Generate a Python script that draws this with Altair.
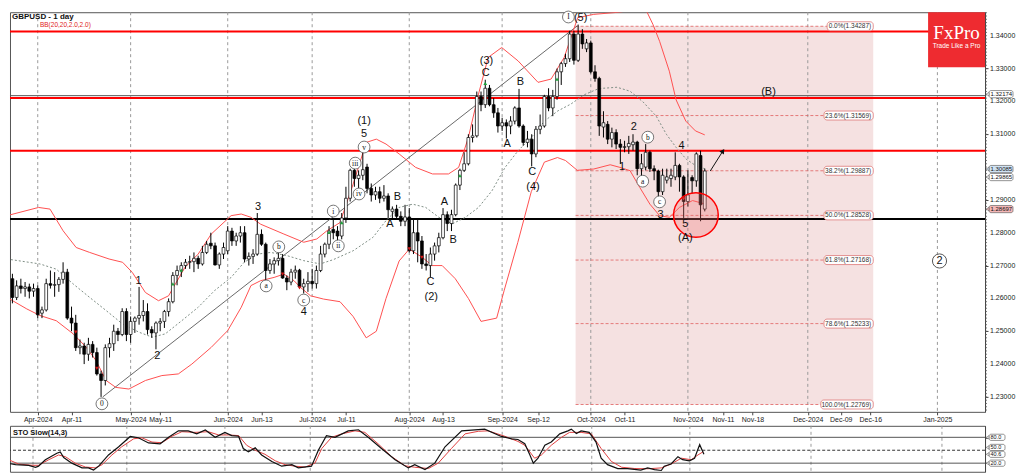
import altair as alt
import pandas as pd

FONT = "Liberation Sans"
SERIF = "Liberation Serif"

# ---------------- candles: index 0 = 1 Apr 2024, one step per trading day ----------------
first_bar = -7
opens = [
    1.2790, 1.2660, 1.2603, 1.2638, 1.2630, 1.2635, 1.2622, 1.2630, 1.2555, 1.2565,
    1.2645, 1.2640, 1.2642, 1.2658, 1.2680, 1.2540, 1.2525, 1.2450, 1.2455, 1.2430,
    1.2460, 1.2435, 1.2370, 1.2350, 1.2450, 1.2462, 1.2500, 1.2490, 1.2560, 1.2490,
    1.2530, 1.2540, 1.2548, 1.2560, 1.2505, 1.2495, 1.2525, 1.2530, 1.2560, 1.2590,
    1.2670, 1.2685, 1.2700, 1.2710, 1.2712, 1.2722, 1.2705, 1.2740, 1.2768, 1.2760,
    1.2702, 1.2735, 1.2745, 1.2805, 1.2775, 1.2790, 1.2800, 1.2720, 1.2728, 1.2735,
    1.2795, 1.2765, 1.2685, 1.2705, 1.2715, 1.2722, 1.2662, 1.2650, 1.2680, 1.2686,
    1.2635, 1.2645, 1.2652, 1.2645, 1.2685, 1.2735, 1.2765, 1.2810, 1.2805, 1.2790,
    1.2845, 1.2905, 1.2990, 1.2965, 1.2975, 1.3000, 1.2935, 1.2915, 1.2925, 1.2905,
    1.2912, 1.2865, 1.2872, 1.2850, 1.2835, 1.2848, 1.2745, 1.2800, 1.2775, 1.2705,
    1.2700, 1.2735, 1.2760, 1.2785, 1.2855, 1.2828, 1.2855, 1.2945, 1.2990, 1.3010,
    1.3090, 1.3095, 1.3215, 1.3190, 1.3240, 1.3190, 1.3165, 1.3125, 1.3135, 1.3125,
    1.3140, 1.3180, 1.3125, 1.3075, 1.3085, 1.3040, 1.3115, 1.3125, 1.3215, 1.3180,
    1.3215, 1.3290, 1.3315, 1.3330, 1.3405, 1.3325, 1.3405, 1.3360, 1.3378, 1.3290,
    1.3270, 1.3122, 1.3130, 1.3085, 1.3105, 1.3070, 1.3060, 1.3062, 1.3068, 1.3076,
    1.2995, 1.3000, 1.3045, 1.2995, 1.2988, 1.2925, 1.2960, 1.2965, 1.2970, 1.3005,
    1.2970, 1.2895, 1.2968, 1.2958, 1.3035, 1.2872,
]
highs = [
    1.2804, 1.2675, 1.2655, 1.2660, 1.2650, 1.2645, 1.2645, 1.2640, 1.2575, 1.2660,
    1.2685, 1.2680, 1.2665, 1.2710, 1.2690, 1.2575, 1.2550, 1.2475, 1.2465, 1.2480,
    1.2470, 1.2450, 1.2380, 1.2460, 1.2480, 1.2520, 1.2510, 1.2570, 1.2570, 1.2545,
    1.2545, 1.2635, 1.2595, 1.2585, 1.2515, 1.2530, 1.2540, 1.2565, 1.2600, 1.2680,
    1.2700, 1.2710, 1.2720, 1.2730, 1.2740, 1.2730, 1.2760, 1.2775, 1.2800, 1.2770,
    1.2740, 1.2770, 1.2820, 1.2815, 1.2800, 1.2820, 1.2820, 1.2740, 1.2750, 1.2860,
    1.2810, 1.2770, 1.2720, 1.2725, 1.2745, 1.2735, 1.2670, 1.2690, 1.2700, 1.2690,
    1.2660, 1.2680, 1.2690, 1.2700, 1.2760, 1.2770, 1.2820, 1.2845, 1.2820, 1.2860,
    1.2940, 1.2995, 1.2995, 1.2990, 1.3045, 1.3010, 1.2950, 1.2940, 1.2940, 1.2945,
    1.2920, 1.2880, 1.2885, 1.2865, 1.2885, 1.2875, 1.2840, 1.2840, 1.2790, 1.2735,
    1.2755, 1.2770, 1.2800, 1.2875, 1.2865, 1.2870, 1.2950, 1.2995, 1.3045, 1.3100,
    1.3130, 1.3230, 1.3230, 1.3266, 1.3250, 1.3210, 1.3180, 1.3150, 1.3145, 1.3155,
    1.3185, 1.3238, 1.3130, 1.3110, 1.3100, 1.3125, 1.3160, 1.3220, 1.3240, 1.3235,
    1.3300, 1.3320, 1.3345, 1.3415, 1.3415, 1.3434, 1.3420, 1.3390, 1.3385, 1.3310,
    1.3275, 1.3170, 1.3140, 1.3120, 1.3115, 1.3085, 1.3080, 1.3095, 1.3100, 1.3080,
    1.3040, 1.3070, 1.3050, 1.3005, 1.2992, 1.2995, 1.2995, 1.2995, 1.3045, 1.3010,
    1.2975, 1.2990, 1.2975, 1.3045, 1.3050, 1.2995,
]
lows = [
    1.2655, 1.2585, 1.2595, 1.2615, 1.2605, 1.2600, 1.2605, 1.2540, 1.2540, 1.2560,
    1.2630, 1.2605, 1.2620, 1.2645, 1.2535, 1.2500, 1.2440, 1.2430, 1.2400, 1.2410,
    1.2420, 1.2365, 1.2300, 1.2335, 1.2420, 1.2440, 1.2470, 1.2485, 1.2470, 1.2465,
    1.2495, 1.2520, 1.2530, 1.2490, 1.2480, 1.2445, 1.2500, 1.2510, 1.2545, 1.2585,
    1.2640, 1.2665, 1.2690, 1.2690, 1.2680, 1.2690, 1.2700, 1.2735, 1.2750, 1.2700,
    1.2690, 1.2720, 1.2735, 1.2760, 1.2760, 1.2770, 1.2710, 1.2700, 1.2705, 1.2730,
    1.2760, 1.2655, 1.2675, 1.2675, 1.2700, 1.2660, 1.2625, 1.2640, 1.2660, 1.2630,
    1.2615, 1.2620, 1.2630, 1.2630, 1.2680, 1.2725, 1.2750, 1.2780, 1.2770, 1.2780,
    1.2830, 1.2895, 1.2940, 1.2935, 1.2960, 1.2920, 1.2895, 1.2900, 1.2890, 1.2895,
    1.2845, 1.2845, 1.2840, 1.2820, 1.2820, 1.2740, 1.2735, 1.2710, 1.2690, 1.2685,
    1.2665, 1.2715, 1.2740, 1.2780, 1.2805, 1.2805, 1.2850, 1.2930, 1.2985, 1.3005,
    1.3075, 1.3090, 1.3170, 1.3180, 1.3185, 1.3150, 1.3105, 1.3110, 1.3087, 1.3100,
    1.3130, 1.3120, 1.3065, 1.3060, 1.3002, 1.3030, 1.3100, 1.3120, 1.3170, 1.3155,
    1.3205, 1.3250, 1.3305, 1.3320, 1.3312, 1.3320, 1.3360, 1.3350, 1.3285, 1.3260,
    1.3095, 1.3090, 1.3070, 1.3060, 1.3055, 1.3010, 1.3045, 1.3040, 1.3050, 1.2975,
    1.2970, 1.2990, 1.2985, 1.2960, 1.2910, 1.2915, 1.2950, 1.2940, 1.2960, 1.2925,
    1.2845, 1.2880, 1.2920, 1.2940, 1.2835, 1.2865,
]
closes = [
    1.2660, 1.2603, 1.2638, 1.2630, 1.2635, 1.2622, 1.2630, 1.2550, 1.2565, 1.2645,
    1.2640, 1.2642, 1.2658, 1.2680, 1.2540, 1.2525, 1.2450, 1.2455, 1.2430, 1.2460,
    1.2435, 1.2370, 1.2350, 1.2450, 1.2462, 1.2500, 1.2490, 1.2560, 1.2490, 1.2530,
    1.2540, 1.2548, 1.2560, 1.2505, 1.2495, 1.2525, 1.2530, 1.2560, 1.2590, 1.2670,
    1.2685, 1.2700, 1.2710, 1.2712, 1.2722, 1.2705, 1.2740, 1.2765, 1.2760, 1.2702,
    1.2735, 1.2755, 1.2805, 1.2775, 1.2790, 1.2800, 1.2720, 1.2728, 1.2735, 1.2795,
    1.2765, 1.2685, 1.2705, 1.2715, 1.2722, 1.2662, 1.2650, 1.2680, 1.2686, 1.2635,
    1.2645, 1.2652, 1.2645, 1.2685, 1.2735, 1.2765, 1.2805, 1.2800, 1.2790, 1.2845,
    1.2905, 1.2990, 1.2965, 1.2975, 1.2992, 1.2935, 1.2915, 1.2925, 1.2905, 1.2912,
    1.2870, 1.2872, 1.2850, 1.2835, 1.2848, 1.2745, 1.2800, 1.2775, 1.2705, 1.2700,
    1.2735, 1.2760, 1.2785, 1.2855, 1.2828, 1.2855, 1.2945, 1.2990, 1.3010, 1.3090,
    1.3095, 1.3215, 1.3190, 1.3240, 1.3190, 1.3165, 1.3125, 1.3135, 1.3125, 1.3140,
    1.3180, 1.3125, 1.3075, 1.3085, 1.3040, 1.3115, 1.3125, 1.3215, 1.3180, 1.3215,
    1.3290, 1.3315, 1.3330, 1.3405, 1.3325, 1.3405, 1.3375, 1.3378, 1.3290, 1.3270,
    1.3125, 1.3135, 1.3085, 1.3105, 1.3070, 1.3060, 1.3062, 1.3072, 1.3076, 1.2995,
    1.3010, 1.3045, 1.2995, 1.2988, 1.2925, 1.2975, 1.2970, 1.2975, 1.3005, 1.2970,
    1.2895, 1.2915, 1.2958, 1.3040, 1.2885, 1.2988,
]

# ---------------- Bollinger Bands (20, 2) ----------------
bb_upper_x = [-7.3, 0.2, 2.9, 6.0, 9.1, 12.3, 16.9, 20.1, 22.4, 25.5, 28.6, 31.0, 32.6, 34.9, 38.0,
              41.1, 45.8, 48.2, 50.5, 52.8, 58.3, 63.0, 66.1, 68.5, 71.6, 74.7, 77.8, 80.2, 82.5, 85.6,
              89.5, 93.5, 97.3, 99.7, 102.0, 104.4, 106.7, 109.9, 113.8, 118.5, 121.6, 124.7, 127.9,
              131.7, 137.2, 139.5, 142.6, 144.2, 145.7, 147.3, 149.6, 151.2, 153.5, 155.8, 158.0]
bb_upper_y = [1.2852, 1.2877, 1.2872, 1.2806, 1.2755, 1.2740, 1.2720, 1.2710, 1.2679, 1.2618, 1.2593,
              1.2608, 1.2644, 1.2695, 1.2735, 1.2796, 1.2852, 1.2857, 1.2847, 1.2826, 1.2796, 1.2771,
              1.2781, 1.2806, 1.2831, 1.2948, 1.3075, 1.3085, 1.3070, 1.3040, 1.2999, 1.2979, 1.2979,
              1.2999, 1.3090, 1.3222, 1.3334, 1.3364, 1.3323, 1.3258, 1.3268, 1.3334, 1.3455, 1.3465,
              1.3471, 1.3475, 1.3487, 1.3475, 1.3435, 1.3383, 1.3292, 1.3205, 1.3140, 1.3110, 1.3098]
bb_lower_x = [-7.3, -2.6, 0.5, 4.4, 8.4, 11.5, 13.8, 16.2, 18.5, 21.6, 25.5, 29.4, 33.3, 36.5, 41.1,
              45.0, 48.2, 50.5, 52.8, 56.0, 58.3, 60.7, 62.2, 64.6, 67.7, 71.6, 74.7, 77.8, 80.2, 82.5,
              85.6, 88.0, 91.1, 93.4, 95.8, 98.9, 102.0, 105.0, 108.7, 110.5, 113.7, 116.9, 120.0,
              123.1, 125.0, 127.8, 131.7, 135.6, 137.9, 140.3, 142.6, 145.0, 147.3, 149.6, 152.0,
              155.1, 158.2]
bb_lower_y = [1.2603, 1.2568, 1.2548, 1.2532, 1.2492, 1.2451, 1.2411, 1.2350, 1.2329, 1.2324, 1.2350,
              1.2365, 1.2370, 1.2400, 1.2451, 1.2502, 1.2573, 1.2639, 1.2654, 1.2664, 1.2674, 1.2654,
              1.2634, 1.2608, 1.2598, 1.2590, 1.2545, 1.2480, 1.2500, 1.2600, 1.2714, 1.2750, 1.2725,
              1.2700, 1.2700, 1.2660, 1.2600, 1.2530, 1.2540, 1.2625, 1.2770, 1.2925, 1.3015, 1.3029,
              1.3020, 1.2990, 1.2994, 1.3007, 1.2999, 1.2989, 1.2938, 1.2887, 1.2852, 1.2847, 1.2877,
              1.2898, 1.2887]
bb_mid_x = [-7.3, 0.5, 4.4, 8.4, 12.3, 16.2, 20.1, 24.0, 27.1, 30.2, 34.1, 38.0, 41.9, 45.8, 48.9,
            52.1, 55.2, 59.1, 63.0, 66.9, 70.0, 74.7, 79.4, 82.5, 85.6, 88.8, 91.9, 95.0, 98.2, 101.3,
            104.4, 107.6, 110.7, 113.8, 116.9, 120.1, 123.2, 126.3, 129.4, 132.5, 134.0, 137.2, 140.3,
            143.4, 146.5, 148.9, 151.2, 153.6, 155.9, 158.2]
bb_mid_y = [1.2720, 1.2705, 1.2689, 1.2644, 1.2603, 1.2563, 1.2522, 1.2497, 1.2482, 1.2492, 1.2532,
            1.2573, 1.2624, 1.2664, 1.2710, 1.2735, 1.2740, 1.2730, 1.2715, 1.2705, 1.2718, 1.2745,
            1.2786, 1.2837, 1.2877, 1.2887, 1.2877, 1.2847, 1.2827, 1.2847, 1.2877, 1.2928, 1.2999,
            1.3050, 1.3090, 1.3141, 1.3171, 1.3192, 1.3220, 1.3237, 1.3240, 1.3243, 1.3231, 1.3198,
            1.3155, 1.3100, 1.3060, 1.3024, 1.3004, 1.2994]

# ---------------- Stochastic slow (14,3) ----------------
sto_k_x = [-7.3, -6.1, -4.1, -1.0, 0.6, 1.3, 2.9, 5.6, 6.4, 7.2, 9.1, 11.5, 13.0, 14.2, 15.4, 17.7,
           20.1, 22.8, 24.7, 27.1, 29.8, 31.8, 34.1, 36.4, 38.4, 40.4, 42.7, 45.0, 46.6, 48.2, 49.3,
           50.5, 52.1, 53.6, 56.0, 58.3, 60.7, 62.2, 65.3, 66.9, 68.8, 70.8, 73.9, 76.3, 78.6, 81.7,
           84.9, 88.0, 89.5, 91.9, 94.2, 96.6, 100.5, 103.6, 105.9, 109.8, 112.2, 113.7, 115.3,
           116.5, 117.3, 118.4, 120.0, 121.5, 123.5, 125.4, 126.2, 127.4, 128.5, 130.4, 132.0, 133.2,
           134.7, 137.1, 139.4, 142.5, 144.1, 145.7, 147.3, 148.0, 149.6, 151.2, 152.3, 153.9, 155.1,
           156.3, 157.3]
sto_k_y = [39, 20, 16.5, 15, 10.5, 13, 28, 43, 46, 33, 20, 9, 9, 4, 13, 39, 58, 82, 79, 67, 65, 80,
           95, 95, 88, 97, 80, 91.5, 84, 82.5, 54, 46.5, 55.5, 39, 24, 13, 16.5, 9, 13, 50, 84, 80,
           95, 97.5, 80, 54, 28, 9, 16.5, 5, 20, 58, 95, 97.5, 99, 82, 76.5, 75, 65, 39, 20, 31.5,
           61.5, 69, 88, 95, 99, 89, 95, 91.5, 69, 31.5, 16.5, 7.5, 7.5, 4, 9, 5, 3, 13, 18, 35, 28,
           25.5, 31.5, 63, 40.5]
sto_d_x = [-7.3, -5.7, -3.4, -0.2, 1.3, 3.7, 6.0, 7.6, 9.9, 12.3, 14.6, 16.2, 18.5, 20.8, 23.6, 25.5,
           27.9, 30.2, 32.6, 34.9, 38.0, 41.1, 43.5, 45.8, 48.2, 50.1, 52.1, 54.4, 56.8, 59.1, 61.4,
           63.8, 66.1, 67.7, 70.0, 72.4, 75.5, 77.8, 80.9, 84.1, 87.2, 89.5, 92.7, 95.0, 98.1, 101.3,
           104.4, 106.7, 110.6, 113.7, 115.3, 117.6, 119.2, 121.5, 123.9, 125.8, 128.5, 130.9, 133.2,
           135.6, 138.0, 141.1, 144.2, 147.3, 149.6, 152.0, 154.3, 155.9, 157.1]
sto_d_y = [42, 28, 18, 15, 15, 28, 39, 35, 20, 11, 9, 16.5, 39, 58, 76.5, 79, 69, 67.5, 82.5, 93, 91.5,
           93, 85.5, 85.5, 84, 61.5, 50, 40.5, 25.5, 16.5, 13, 11, 20, 54, 80, 88, 95, 91.5, 65, 35,
           14, 10.5, 7.5, 20, 54, 88, 94, 95, 82.5, 70.5, 61.5, 31.5, 39, 61.5, 80, 91.5, 91.5, 88,
           54, 24, 10.5, 7.5, 7, 9, 18, 31.5, 28, 39, 46.5]
sto_levels = [20, 80]
sto_mid = [50]
sto_ticks = [20, 50, 80]
sto_tag_text = ["80.0", "50.0", "40.6", "20.0"]
sto_tag_pos = [80, 56.5, 40.6, 20]

# ---------------- axes ----------------
tick_idx = [0, 8, 22, 29, 45, 53, 65, 73, 88, 96, 110, 118.5, 131, 139, 154,
            162.3, 169.3, 182.4, 190.2, 197.2, 213.1]
tick_lab = ["Apr-2024", "Apr-11", "May-2024", "May-11", "Jun-2024", "Jun-13", "Jul-2024", "Jul-11",
            "Aug-2024", "Aug-13", "Sep-2024", "Sep-12", "Oct-2024", "Oct-11", "Nov-2024", "Nov-11",
            "Nov-18", "Dec-2024", "Dec-09", "Dec-16", "Jan-2025"]
month_idx = [0, 22, 45, 65, 88, 110, 131, 154, 182.4, 213.1]
price_ticks = [1.23, 1.24, 1.25, 1.26, 1.27, 1.28, 1.29, 1.30, 1.31, 1.32, 1.33, 1.34]
# 1.30000 sits under the price tags in the reference, so it gets no label there
price_labels = [1.23, 1.24, 1.25, 1.26, 1.27, 1.28, 1.29, 1.31, 1.32, 1.33, 1.34]

# ---------------- drawn levels ----------------
red_levels = [1.3413, 1.3210, 1.3050]
black_levels = [1.2842]
grey_levels = [1.32174]
fib_pct = ["0.0", "23.6", "38.2", "50.0", "61.8", "78.6", "100.0"]
fib_price = [1.34287, 1.31569, 1.29887, 1.28528, 1.27168, 1.25233, 1.22769]
fib_span = [127.4, 197.9]
trend_x = [15.4, 127.8]
trend_y = [1.2300, 1.3430]

# ---------------- wave labels ----------------
wave_text = ["1", "2", "3", "4", "5", "(1)", "A", "B", "C", "(2)", "A", "B", "C", "(3)", "A", "B",
             "C", "(4)", "(5)", "1", "2", "3", "4", "5", "(A)", "(B)"]
wave_x = [23.9, 28.3, 52.2, 63.0, 77.3, 77.3, 83.4, 85.2, 93.0, 93.2, 96.3, 98.4, 106.1, 106.3,
          111.2, 114.3, 117.1, 117.3, 128.6, 138.4, 141.2, 147.5, 152.5, 153.4, 153.4, 173.1]
wave_y = [1.2653, 1.2425, 1.2878, 1.2559, 1.3100, 1.3140, 1.2827, 1.2909, 1.2650, 1.2605, 1.2894,
          1.2778, 1.3286, 1.3322, 1.3070, 1.3259, 1.2985, 1.2939, 1.3453, 1.3000, 1.3122, 1.2854,
          1.3064, 1.2827, 1.2784, 1.3228]
circ_text = ["0", "a", "b", "c", "i", "ii", "iii", "iv", "v", "I", "a", "b", "c"]
circ_x = [15.2, 54.1, 57.1, 63.0, 70.0, 71.2, 75.2, 76.1, 77.3, 125.7, 143.3, 144.5, 147.3]
circ_y = [1.2279, 1.2638, 1.2757, 1.2595, 1.2866, 1.2760, 1.3012, 1.2918, 1.3061, 1.3457,
          1.2957, 1.3091, 1.2894]
big_circ_text = ["2"]
big_circ_x = [213.6]
big_circ_y = [1.2714]

up_idx = [32, 34, 69, 72, 100, 106, 123]
up_price = [1.2644, 1.2686, 1.2801, 1.2831, 1.2974, 1.3255, 1.3268]
down_idx = [9, 14, 58, 62, 88, 91, 153]
down_price = [1.2497, 1.2387, 1.2674, 1.2632, 1.2751, 1.2725, 1.2903]

ring_x = [155.9]
ring_y = [1.2854]
arrow_x = [159.3, 162.3]
arrow_y = [1.2988, 1.3049]

right_text = ["1.32174", "1.30085", "1.29865", "1.28697"]
right_pos = [1.3222, 1.2994, 1.29695, 1.2872]
right_fill = ["#ffffff", "#cfe2f3", "#ffffff", "#f4b7b7"]

# ---------------- layout ----------------
W, H, SH = 976, 400, 46
X0, X1 = -5.39, 223.2
Y0, Y1 = 1.22546, 1.34715
S0, S1 = 0.0, 106.7
PXI = W / (X1 - X0)
PYU = H / (Y1 - Y0)
PSU = SH / (S1 - S0)

xs = alt.Scale(domain=[X0, X1], nice=False, zero=False)
ys = alt.Scale(domain=[Y0, Y1], nice=False, zero=False)
ss = alt.Scale(domain=[S0, S1], nice=False, zero=False)


def X(f):
    return alt.X(f, type="quantitative", scale=xs)


def Y(f):
    return alt.Y(f, type="quantitative", scale=ys)


def SX(f):
    return alt.X(f, type="quantitative", scale=xs, axis=None)


def SY(f):
    return alt.Y(f, type="quantitative", scale=ss)


lab_expr = "".join(f"abs(datum.value - {v}) < 0.01 ? '{t}' : " for v, t in zip(tick_idx, tick_lab)) + "''"
xaxis = alt.Axis(values=tick_idx, labelExpr=lab_expr, orient="bottom", grid=False, domain=False,
                 ticks=True, tickSize=3, tickColor="#444", labelFont=FONT, labelFontSize=7,
                 labelColor="#222", labelPadding=1, labelFlush=False, labelOverlap=False, title=None)
yaxis = alt.Axis(values=price_ticks, orient="right", grid=False, domain=True, labels=False,
                 domainColor="#444", ticks=True, tickSize=3, tickColor="#444", title=None)

one = pd.DataFrame({"k": [0]})

bars = pd.DataFrame({"idx": list(range(first_bar, first_bar + len(opens))), "open": opens,
                     "high": highs, "low": lows, "close": closes})

fib = pd.DataFrame({"pct": fib_pct, "price": fib_price})
fib["label"] = fib["pct"] + "%(" + fib["price"].map(lambda v: f"{v:.5f}") + ")"
fib["x0"] = fib_span[0]
fib["x1"] = fib_span[1]
fib["xl"] = fib_span[1] - (fib["label"].str.len() * 3.2 + 5) / PXI
fib["lo"] = fib["price"] - 4.5 / PYU
fib["hi"] = fib["price"] + 4.5 / PYU

fib_box = alt.Chart(pd.DataFrame({"x": [fib_span[0]], "x2": [fib_span[1]], "y": [fib_price[-1]],
                                  "y2": [fib_price[0]]})).mark_rect(color="#f5e1e1").encode(
    x=X("x"), x2="x2", y=Y("y"), y2="y2")

months = alt.Chart(pd.DataFrame({"m": month_idx})).mark_rule(
    color="#9a9a9a", strokeDash=[3, 3], strokeWidth=1).encode(x=X("m"))

fib_lines = alt.Chart(fib).mark_rule(color="#e06060", strokeDash=[3, 2], strokeWidth=0.8).encode(
    x=X("x0"), x2="xl", y=Y("price"))
fib_boxes = alt.Chart(fib).mark_rect(fill="white", stroke="#d77", strokeWidth=0.8, cornerRadius=3).encode(
    x=X("xl"), x2="x1", y=Y("lo"), y2="hi")
fib_text = alt.Chart(fib).mark_text(align="right", baseline="middle", fontSize=6.5, font=FONT,
                                    color="#333", dx=-2).encode(x=X("x1"), y=Y("price"), text="label")

grey_line = alt.Chart(pd.DataFrame({"p": grey_levels})).mark_rule(color="#555", strokeWidth=1).encode(y=Y("p"))
red_lines = alt.Chart(pd.DataFrame({"p": red_levels})).mark_rule(color="#ff0000", strokeWidth=2).encode(y=Y("p"))
black_line = alt.Chart(pd.DataFrame({"p": black_levels})).mark_rule(color="#000", strokeWidth=2).encode(y=Y("p"))

trend = alt.Chart(pd.DataFrame({"x": [trend_x[0]], "x2": [trend_x[1]], "y": [trend_y[0]],
                                "y2": [trend_y[1]]})).mark_rule(color="#444", strokeWidth=0.8).encode(
    x=X("x"), x2="x2", y=Y("y"), y2="y2")

bb_up = alt.Chart(pd.DataFrame({"x": bb_upper_x, "y": bb_upper_y})).mark_line(
    color="#ff5050", strokeWidth=1, clip=True).encode(x=X("x"), y=Y("y"))
bb_lo = alt.Chart(pd.DataFrame({"x": bb_lower_x, "y": bb_lower_y})).mark_line(
    color="#ff5050", strokeWidth=1, clip=True).encode(x=X("x"), y=Y("y"))
bb_md = alt.Chart(pd.DataFrame({"x": bb_mid_x, "y": bb_mid_y})).mark_line(
    color="#7f8f86", strokeWidth=1, strokeDash=[2, 2], clip=True).encode(x=X("x"), y=Y("y"))

wicks = alt.Chart(bars).mark_rule(color="black", strokeWidth=1, clip=True).encode(
    x=alt.X("idx:Q", scale=xs, axis=xaxis), y=alt.Y("low:Q", scale=ys, axis=yaxis), y2="high:Q")
bodies = alt.Chart(bars).mark_bar(size=2.8, stroke="black", strokeWidth=0.7, clip=True).encode(
    x=X("idx"), y=Y("open"), y2="close",
    fill=alt.condition("datum.close < datum.open", alt.value("black"), alt.value("white")))

ups = alt.Chart(pd.DataFrame({"x": up_idx, "y": up_price})).mark_point(
    shape="triangle-up", filled=True, color="#1f9e3a", size=14, opacity=1).encode(x=X("x"), y=Y("y"))
downs = alt.Chart(pd.DataFrame({"x": down_idx, "y": down_price})).mark_point(
    shape="triangle-down", filled=True, color="#d01818", size=14, opacity=1).encode(x=X("x"), y=Y("y"))

ring = alt.Chart(pd.DataFrame({"x": ring_x, "y": ring_y})).mark_point(
    shape="circle", size=2000, fill="#f07070", fillOpacity=0.3, stroke="#ff0000", strokeWidth=1.5,
    opacity=1).encode(x=X("x"), y=Y("y"))

arrow_line = alt.Chart(pd.DataFrame({"x": [arrow_x[0]], "x2": [arrow_x[1]], "y": [arrow_y[0]],
                                     "y2": [arrow_y[1]]})).mark_rule(color="#111", strokeWidth=1).encode(
    x=X("x"), x2="x2", y=Y("y"), y2="y2")
arrow_head = alt.Chart(pd.DataFrame({"x": [arrow_x[1]], "y": [arrow_y[1]]})).mark_point(
    shape="triangle-up", filled=True, color="#111", size=30, angle=33, opacity=1).encode(x=X("x"), y=Y("y"))

waves = alt.Chart(pd.DataFrame({"t": wave_text, "x": wave_x, "y": wave_y})).mark_text(
    font=FONT, fontSize=11, color="#111", baseline="middle").encode(x=X("x"), y=Y("y"), text="t")

circ_df = pd.DataFrame({"t": circ_text, "x": circ_x, "y": circ_y})
circles = alt.Chart(circ_df).mark_point(shape="circle", size=140, filled=True, fill="white",
                                        stroke="#555", strokeWidth=0.8, opacity=1).encode(
    x=X("x"), y=Y("y"))
circ_txt = alt.Chart(circ_df).mark_text(font=SERIF, fontSize=7.5, color="#111", baseline="middle",
                                        dy=0.5).encode(x=X("x"), y=Y("y"), text="t")
big_df = pd.DataFrame({"t": big_circ_text, "x": big_circ_x, "y": big_circ_y})
big_circ = alt.Chart(big_df).mark_point(shape="circle", size=200, filled=True, fill="white",
                                        stroke="#444", strokeWidth=0.9, opacity=1).encode(x=X("x"), y=Y("y"))
big_txt = alt.Chart(big_df).mark_text(font=FONT, fontSize=11, color="#111", baseline="middle", dy=0.5).encode(
    x=X("x"), y=Y("y"), text="t")

# logo and titles (decorative, pixel placed)
logo_box = alt.Chart(one).mark_rect(color="#ee2b30").encode(
    x=alt.value(919), x2=alt.value(976), y=alt.value(0), y2=alt.value(55))
logo_t1 = alt.Chart(one).mark_text(text="FxPro", font=SERIF, fontSize=19, color="white",
                                   baseline="middle").encode(x=alt.value(947.5), y=alt.value(21))
logo_t2 = alt.Chart(one).mark_text(text="Trade Like a Pro", font=FONT, fontSize=6.5, color="white",
                                   baseline="middle").encode(x=alt.value(947.5), y=alt.value(34))
title1 = alt.Chart(one).mark_text(text="GBPUSD - 1 day", font=FONT, fontSize=8, fontWeight="bold",
                                  color="#111", align="left", baseline="top").encode(x=alt.value(2), y=alt.value(1))
title2 = alt.Chart(one).mark_text(text="BB(20,20,2.0,2.0)", font=FONT, fontSize=6.5, color="#e02020",
                                  align="left", baseline="top").encode(x=alt.value(30), y=alt.value(10))

# right price scale labels (drawn as text so every one shows)
ylab = alt.Chart(pd.DataFrame({"p": price_labels, "t": [f"{v:.5f}" for v in price_labels]})).mark_text(
    align="left", baseline="middle", font=FONT, fontSize=7, color="#222").encode(
    x=alt.value(W + 5), y=Y("p"), text="t")

# right-side price tags
rdf = pd.DataFrame({"t": right_text, "p": right_pos, "f": right_fill})
rdf["lo"] = rdf["p"] - 3.6 / PYU
rdf["hi"] = rdf["p"] + 3.6 / PYU
rtag_box = alt.Chart(rdf).mark_rect(stroke="#666", strokeWidth=0.7, cornerRadius=2).encode(
    x=alt.value(W + 4), x2=alt.value(W + 28), y=Y("lo"), y2="hi", fill=alt.Fill("f:N", scale=None))
rtag_ptr = alt.Chart(rdf).mark_point(shape="triangle-left", filled=True, size=12, opacity=1).encode(
    x=alt.value(W + 2.5), y=Y("p"), fill=alt.Fill("f:N", scale=None), stroke=alt.value("#666"),
    strokeWidth=alt.value(0.6))
rtag_txt = alt.Chart(rdf).mark_text(align="left", baseline="middle", font=FONT, fontSize=6,
                                    color="#111").encode(x=alt.value(W + 5.5), y=Y("p"), text="t")

minor = [round(1.226 + 0.001 * i, 3) for i in range(122)]
minor_ticks = alt.Chart(pd.DataFrame({"p": minor})).mark_rule(color="#555", strokeWidth=0.8).encode(
    x=alt.value(W), x2=alt.value(W + 2), y=Y("p"))

main = alt.layer(
    fib_box, months, fib_lines, grey_line, red_lines, black_line, trend,
    bb_up, bb_lo, bb_md, wicks, bodies, ups, downs, ring, arrow_line, arrow_head,
    fib_boxes, fib_text, waves, circles, circ_txt, big_circ, big_txt,
    logo_box, logo_t1, logo_t2, title1, title2, minor_ticks, ylab, rtag_box, rtag_ptr, rtag_txt,
).properties(width=W, height=H)

# ---------------- stochastic panel ----------------
s_axis = alt.Axis(values=sto_ticks, orient="right", grid=False, domain=True, labels=False,
                  domainColor="#444", ticks=True, tickSize=3, tickColor="#444", title=None)
s_months = alt.Chart(pd.DataFrame({"m": month_idx})).mark_rule(
    color="#9a9a9a", strokeDash=[3, 3], strokeWidth=1).encode(x=SX("m"))
s_lv = alt.Chart(pd.DataFrame({"v": sto_levels})).mark_rule(color="#555", strokeWidth=1).encode(y=SY("v"))
s_mid = alt.Chart(pd.DataFrame({"v": sto_mid})).mark_rule(color="#333", strokeWidth=1,
                                                          strokeDash=[3, 2]).encode(y=SY("v"))
s_d = alt.Chart(pd.DataFrame({"x": sto_d_x, "v": sto_d_y})).mark_line(
    color="#e04040", strokeWidth=1, clip=True).encode(x=SX("x"), y=SY("v"))
s_k = alt.Chart(pd.DataFrame({"x": sto_k_x, "v": sto_k_y})).mark_line(
    color="#111", strokeWidth=1.2, clip=True).encode(x=SX("x"), y=alt.Y("v:Q", scale=ss, axis=s_axis))
s_title = alt.Chart(one).mark_text(text="STO Slow(14,3)", font=FONT, fontSize=7.5, fontWeight="bold",
                                   color="#111", align="left", baseline="top").encode(x=alt.value(3), y=alt.value(3))
sdf = pd.DataFrame({"t": sto_tag_text, "v": sto_tag_pos})
sdf["lo"] = sdf["v"] - 3.1 / PSU
sdf["hi"] = sdf["v"] + 3.1 / PSU
s_tag_box = alt.Chart(sdf).mark_rect(fill="white", stroke="#666", strokeWidth=0.7, cornerRadius=2).encode(
    x=alt.value(W + 4), x2=alt.value(W + 20), y=SY("lo"), y2="hi")
s_tag_ptr = alt.Chart(sdf).mark_point(shape="triangle-left", filled=True, size=10, fill="white",
                                      stroke="#666", strokeWidth=0.6, opacity=1).encode(
    x=alt.value(W + 2.5), y=SY("v"))
s_tag_txt = alt.Chart(sdf).mark_text(align="left", baseline="middle", font=FONT, fontSize=5.5,
                                     color="#111").encode(x=alt.value(W + 5.5), y=SY("v"), text="t")

sto = alt.layer(s_months, s_lv, s_mid, s_d, s_k, s_title, s_tag_box, s_tag_ptr, s_tag_txt).properties(
    width=W, height=SH)

chart = alt.vconcat(main, sto, spacing=1).properties(padding=0, background="white").configure_view(
    stroke="#555", strokeWidth=1)

chart.save("out.html", embed_options={"renderer": "svg", "actions": False})
